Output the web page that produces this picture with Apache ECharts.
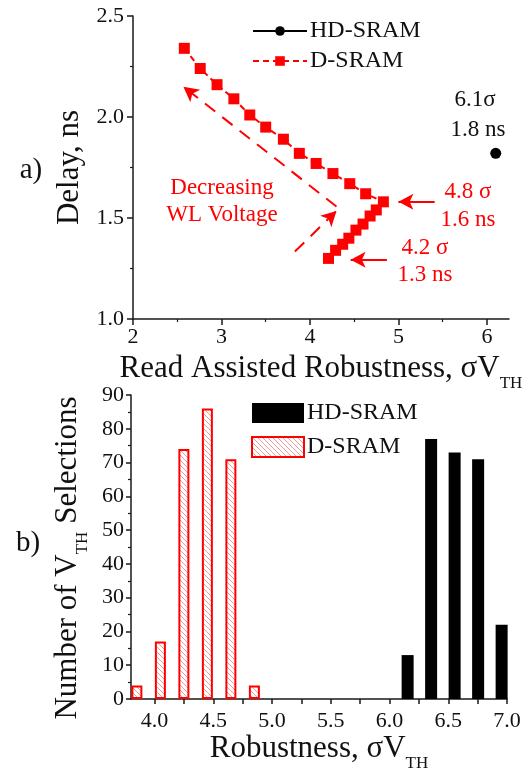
<!DOCTYPE html>
<html>
<head>
<meta charset="utf-8">
<script src="https://cdn.jsdelivr.net/npm/echarts@6/dist/echarts.min.js"></script>
<style>
  html, body { margin: 0; padding: 0; background: #fff; }
  #chart { width: 532px; height: 769px; }
</style>
</head>
<body>
<div id="chart"></div>
<script>
// a) Delay versus read-assisted robustness
const hdRobustness = [6.1];
const hdDelay = [1.82];
const dRobustness = [2.58, 2.76, 2.95, 3.14, 3.32, 3.50, 3.70, 3.88, 4.07, 4.26, 4.45, 4.63, 4.83,
                     4.75, 4.68, 4.60, 4.52, 4.44, 4.37, 4.29, 4.21];
const dDelay = [2.34, 2.24, 2.16, 2.09, 2.01, 1.95, 1.89, 1.82, 1.77, 1.72, 1.67, 1.62, 1.58,
                1.54, 1.51, 1.47, 1.44, 1.40, 1.37, 1.34, 1.30];
const topXTicks = [2, 3, 4, 5, 6];
const topXMinorTicks = [2.5, 3.5, 4.5, 5.5];

// b) Number of VTH selections per robustness bin
const dBins = [3.85, 4.05, 4.25, 4.45, 4.65, 4.85];
const dCounts = [4, 17, 74, 86, 71, 4];
const hdBins = [6.15, 6.35, 6.55, 6.75, 6.95];
const hdCounts = [13, 77, 73, 71, 22];
const botXLabels = [4.0, 4.5, 5.0, 5.5, 6.0, 6.5, 7.0];
const botXTicks = [4.0, 4.25, 4.5, 4.75, 5.0, 5.25, 5.5, 5.75, 6.0, 6.25, 6.5, 6.75, 7.0];

const FONT = '"Liberation Serif", "Times New Roman", serif';
const RED = '#ff0000';
const AXIS = '#1a1a1a';

// diagonal hatch used for the D-SRAM bars
function hatch() {
  const c = document.createElement('canvas');
  const s = 5;
  c.width = s; c.height = s;
  const g = c.getContext('2d');
  g.fillStyle = '#ffffff';
  g.fillRect(0, 0, s, s);
  g.strokeStyle = '#f29a9a';
  g.lineWidth = 1;
  g.beginPath();
  g.moveTo(-1, -1); g.lineTo(s + 1, s + 1);
  g.moveTo(-1, s - 1); g.lineTo(1, s + 1);
  g.moveTo(s - 1, -1); g.lineTo(s + 1, 1);
  g.stroke();
  return c;
}
const hatchFill = { image: hatch(), repeat: 'repeat' };

const zip = (xs, ys) => xs.map((x, i) => [x, ys[i]]);

const axisLine = { show: true, lineStyle: { color: AXIS, width: 1.5 } };
const labelStyle = { fontFamily: FONT, fontSize: 22, color: '#111' };
const nameStyle = (extra) => Object.assign({
  fontFamily: FONT, fontSize: 31, color: '#111',
  rich: { sub: { fontFamily: FONT, fontSize: 17, color: '#111', padding: [30, 0, 0, 0] } }
}, extra || {});
const note = (text, x, y, fill) => ({
  type: 'text', x: x, y: y,
  style: { text: text, font: '23px "Liberation Serif", serif', fill: fill, align: 'center', verticalAlign: 'middle' }
});

const chart = echarts.init(document.getElementById('chart'), null, { renderer: 'canvas' });

const option = {
  animation: false,
  backgroundColor: '#ffffff',
  textStyle: { fontFamily: FONT },
  grid: [
    { left: 133, top: 16, width: 376, height: 303, containLabel: false, outerBoundsMode: 'none' },
    { left: 131, top: 395, width: 376, height: 304, containLabel: false, outerBoundsMode: 'none' }
  ],
  legend: [
    {
      data: ['HD-SRAM', 'D-SRAM'],
      orient: 'vertical', left: 247, top: 14, itemWidth: 54, itemHeight: 12, itemGap: 6,
      textStyle: { fontFamily: FONT, fontSize: 24, color: '#111', padding: [0, 0, 0, -2] },
      selectedMode: false
    },
    {
      data: [{ name: 'HD-SRAM ', icon: 'rect' }, { name: 'D-SRAM ', icon: 'rect' }],
      orient: 'vertical', left: 246, top: 396, itemWidth: 52, itemHeight: 20, itemGap: 10,
      formatter: n => n.trim(),
      textStyle: { fontFamily: FONT, fontSize: 24, color: '#111', padding: [0, 0, 0, -2] },
      selectedMode: false
    }
  ],
  xAxis: [
    {
      gridIndex: 0, type: 'value', min: 2, max: 6.25, position: 'bottom',
      axisLine: axisLine,
      axisTick: { show: true, length: 6, customValues: topXTicks, lineStyle: { color: AXIS, width: 1.5 } },
      axisLabel: { customValues: topXTicks, margin: 7, ...labelStyle },
      splitLine: { show: false },
      name: 'Read Assisted Robustness, σV{sub|TH}',
      nameLocation: 'middle', nameGap: 26, nameTextStyle: nameStyle()
    },
    {
      gridIndex: 0, type: 'value', min: 2, max: 6.25, position: 'bottom',
      axisLine: { show: false },
      axisTick: { show: true, length: 3, customValues: topXMinorTicks, lineStyle: { color: AXIS, width: 1.2 } },
      axisLabel: { show: false },
      splitLine: { show: false }
    },
    {
      gridIndex: 1, type: 'value', min: 3.8, max: 7.0, position: 'bottom',
      axisLine: axisLine,
      axisTick: { show: true, length: 5, customValues: botXTicks, lineStyle: { color: AXIS, width: 1.5 } },
      axisLabel: { customValues: botXLabels, margin: 11, formatter: v => v.toFixed(1), ...labelStyle },
      splitLine: { show: false },
      name: 'Robustness, σV{sub|TH}',
      nameLocation: 'middle', nameGap: 24, nameTextStyle: nameStyle()
    }
  ],
  yAxis: [
    {
      gridIndex: 0, type: 'value', min: 1.0, max: 2.5, interval: 0.5,
      axisLine: axisLine,
      axisTick: { show: true, length: 6, lineStyle: { color: AXIS, width: 1.5 } },
      minorTick: { show: true, splitNumber: 2, length: 3, lineStyle: { color: AXIS, width: 1.2 } },
      axisLabel: { margin: 9, formatter: v => v.toFixed(1), ...labelStyle },
      splitLine: { show: false },
      name: 'Delay, ns', nameLocation: 'middle', nameGap: 44, nameRotate: 90,
      nameTextStyle: nameStyle()
    },
    {
      gridIndex: 1, type: 'value', min: 0, max: 90, interval: 10,
      axisLine: axisLine,
      axisTick: { show: true, length: 5, lineStyle: { color: AXIS, width: 1.5 } },
      minorTick: { show: true, splitNumber: 2, length: 3, lineStyle: { color: AXIS, width: 1.2 } },
      axisLabel: { margin: 7, ...labelStyle },
      splitLine: { show: false },
      name: 'Number of V{sub|TH} Selections', nameLocation: 'middle', nameGap: 39, nameRotate: 90,
      nameTextStyle: nameStyle({ padding: [0, 22, 0, 0] })
    }
  ],
  series: [
    {
      name: 'HD-SRAM', type: 'line', xAxisIndex: 0, yAxisIndex: 0,
      data: zip(hdRobustness, hdDelay),
      symbol: 'circle', symbolSize: 11,
      itemStyle: { color: '#000' },
      lineStyle: { color: '#000', width: 2 }
    },
    {
      name: 'D-SRAM', type: 'line', xAxisIndex: 0, yAxisIndex: 0,
      data: zip(dRobustness, dDelay),
      symbol: 'rect', symbolSize: 11,
      itemStyle: { color: RED },
      lineStyle: { color: RED, width: 2, type: [6, 4] },
      markLine: {
        silent: true, animation: false,
        symbol: ['none', 'arrow'], symbolSize: [12, 15],
        label: { show: false },
        lineStyle: { color: RED, width: 2, type: 'solid' },
        data: [
          // arrows pointing at the two labelled operating points
          [{ coord: [5.41, 1.58] }, { coord: [5.00, 1.58] }],
          [{ coord: [4.87, 1.293] }, { coord: [4.46, 1.293] }],
          // direction of decreasing WL voltage
          [{ coord: [4.30, 1.557], lineStyle: { type: [13, 9] } }, { coord: [2.57, 2.15] }],
          [{ coord: [3.83, 1.334], lineStyle: { type: [13, 9] } }, { coord: [4.30, 1.535] }]
        ]
      }
    },
    {
      name: 'HD-SRAM ', type: 'bar', xAxisIndex: 2, yAxisIndex: 1,
      data: zip(hdBins, hdCounts),
      barWidth: 12, barGap: '-100%',
      itemStyle: { color: '#000', borderColor: '#000', borderWidth: 0 }
    },
    {
      name: 'D-SRAM ', type: 'bar', xAxisIndex: 2, yAxisIndex: 1,
      data: zip(dBins, dCounts),
      barWidth: 11, barGap: '-100%',
      itemStyle: { color: hatchFill, borderColor: RED, borderWidth: 2 }
    }
  ],
  graphic: [
    { type: 'text', x: 31, y: 170, style: { text: 'a)', font: '29px "Liberation Serif", serif', fill: '#111', align: 'center', verticalAlign: 'middle' } },
    { type: 'text', x: 28, y: 543, style: { text: 'b)', font: '29px "Liberation Serif", serif', fill: '#111', align: 'center', verticalAlign: 'middle' } },
    note('6.1σ', 475, 100, '#111'),
    note('1.8 ns', 478, 130, '#111'),
    note('Decreasing', 222, 188, RED),
    note('WL Voltage', 222, 215, RED),
    note('4.8 σ', 468, 192, RED),
    note('1.6 ns', 468, 220, RED),
    note('4.2 σ', 425, 248, RED),
    note('1.3 ns', 425, 275, RED)
  ]
};

chart.setOption(option);
</script>
</body>
</html>
